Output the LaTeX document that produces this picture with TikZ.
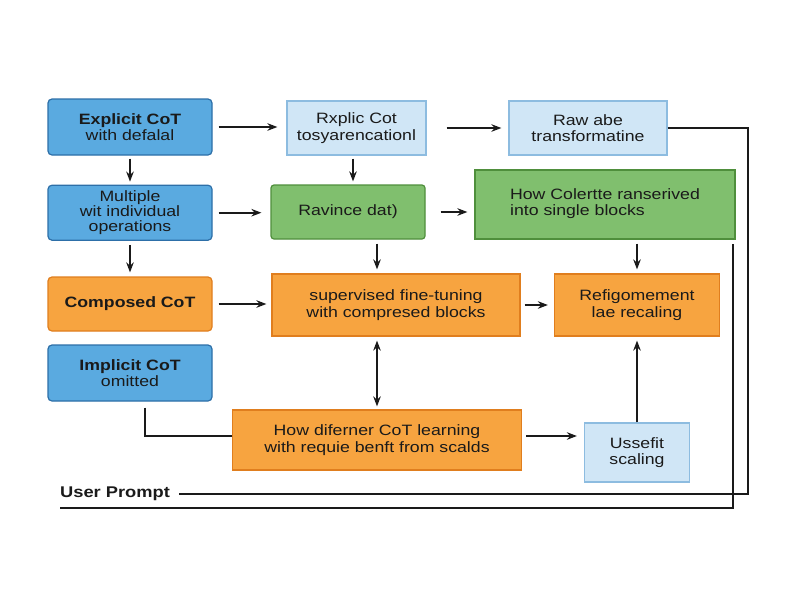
\documentclass[tikz,border=0pt]{standalone}
\usepackage{fontspec}
\setmainfont{Liberation Sans}[FakeStretch=1.18]
\usepackage{xcolor}
\usetikzlibrary{arrows.meta,positioning}
\definecolor{cotblue}{HTML}{5AAAE0}
\definecolor{cotbluedark}{HTML}{2D6FA8}
\definecolor{cotpale}{HTML}{D0E6F6}
\definecolor{cotpaledark}{HTML}{8DBCE0}
\definecolor{cotgreen}{HTML}{80BF6E}
\definecolor{cotgreendark}{HTML}{4F8F3C}
\definecolor{cotorange}{HTML}{F7A440}
\definecolor{cotorangedark}{HTML}{E07E1E}
\definecolor{cotink}{HTML}{1A1A1A}

\begin{document}
\begin{tikzpicture}[
        x=1pt, y=-1pt,
        node distance=29pt,
        box/.style={
          draw,
          line width=1.2pt,
          align=center,
          inner sep=0pt,
          font=\fontsize{15}{16.5}\selectfont,
          text=cotink
        },
        bluebox/.style={box, rounded corners=4pt, fill=cotblue, draw=cotbluedark,
          minimum width=164pt, minimum height=56pt},
        palebox/.style={box, fill=cotpale, draw=cotpaledark},
        greenbox/.style={box, fill=cotgreen, draw=cotgreendark},
        orangebox/.style={box, fill=cotorange, draw=cotorangedark},
        arrow/.style={
          -{Stealth[length=10pt,width=7.5pt]},
          line width=1.7pt,
          cotink
        },
        wire/.style={line width=1.7pt, cotink}
      ]
      \useasboundingbox[fill=white] (0,0) rectangle (800,600);

      % left column
      \node[bluebox] (explicit) at (130,127) {\textbf{Explicit CoT}\\with defalal};
      \node[bluebox, minimum height=55pt, below=of explicit, font=\fontsize{15}{15}\selectfont] (multiple) {Multiple\\wit individual\\operations};
      \node[bluebox, fill=cotorange, draw=cotorangedark, minimum height=54pt] (composed) at (130,304) {\textbf{Composed CoT}};
      \node[bluebox] (implicit) at (130,373) {\textbf{Implicit CoT}\\omitted};

      % middle and right
      \node[palebox, minimum width=139pt, minimum height=54pt] (rxplic) at (356.5,128) {Rxplic Cot\\tosyarencationl};
      \node[greenbox, rounded corners=3pt, minimum width=154pt, minimum height=54pt] (ravince) at (348,212) {Ravince dat)};
      \node[palebox, minimum width=158pt, minimum height=54pt] (raw) at (588,128) {Raw abe\\transformatine};
      \node[greenbox, minimum width=260pt, minimum height=69pt, align=left, font=\fontsize{15}{15}\selectfont] (colerite) at (605,204.5) {\strut How Colertte ranserived\\into single blocks\strut};
      \node[orangebox, minimum width=248pt, minimum height=62pt] (supervised) at (396,305) {supervised fine-tuning\\with compresed blocks};
      \node[orangebox, minimum width=165pt, minimum height=62pt] (refig) at (637,305) {Refigomement\\lae recaling};
      \node[orangebox, minimum width=289pt, minimum height=60pt] (differ) at (377,440) {How diferner CoT learning\\with requie benft from scalds};
      \node[palebox, minimum width=105pt, minimum height=59pt] (ussefit) at (637,452.5) {Ussefit\\scaling};

      \node[anchor=west, inner sep=0pt, font=\fontsize{15.5}{18}\selectfont\bfseries, text=cotink] (prompt) at (60,494) {User Prompt};

      \coordinate (pcorner) at (748,494);
      \coordinate (bstart) at (733,244);
      \coordinate (bcorner) at (733,508);
      \coordinate (bend) at (60,508);

      \draw[arrow, shorten <=6pt, shorten >=9pt] (explicit.east) -- (explicit.east -| rxplic.west);
      \draw[arrow, shorten <=20pt, shorten >=7pt] (rxplic.east) -- (rxplic.east -| raw.west);
      \draw[arrow, shorten <=3pt, shorten >=3pt] (explicit.south) -- (multiple.north);
      \draw[arrow, shorten <=3pt, shorten >=3pt] (rxplic.south -| 353,0) -- (ravince.north -| 353,0);
      \draw[arrow, shorten <=6pt, shorten >=9pt] (multiple.east) -- (multiple.east -| ravince.west);
      \draw[arrow, shorten <=15pt, shorten >=7pt] (ravince.east) -- (ravince.east -| colerite.west);
      \draw[arrow, shorten <=4pt, shorten >=4pt] (multiple.south) -- (composed.north);
      \draw[arrow, shorten <=4pt, shorten >=4pt] (ravince.south -| differ.north) -- (supervised.north -| differ.north);
      \draw[arrow, shorten <=4pt, shorten >=4pt] (colerite.south -| refig.north) -- (refig.north);
      \draw[arrow, shorten <=6pt, shorten >=5pt] (composed.east) -- (composed.east -| supervised.west);
      \draw[arrow, shorten <=4pt, shorten >=6pt] (supervised.east) -- (refig.west);
      \draw[arrow, {Stealth[length=10pt,width=7.5pt]}-{Stealth[length=10pt,width=7.5pt]}, shorten <=4pt, shorten >=3pt] (supervised.south -| differ.north) -- (differ.north);
      \draw[wire] ([xshift=15pt,yshift=-6pt]implicit.south) |- ([yshift=4pt]differ.west);
      \draw[arrow, shorten <=4pt, shorten >=7pt] ([yshift=4pt]differ.east) -- ([yshift=4pt]differ.east -| ussefit.west);
      \draw[arrow, shorten >=4pt] (ussefit.north -| refig.south) -- (refig.south);

      \draw[wire] (raw.east) -| (pcorner) -- ([xshift=9pt]prompt.east);
      \draw[wire] (bstart) -- (bcorner) -- (bend);

      \end{tikzpicture}
\end{document}
